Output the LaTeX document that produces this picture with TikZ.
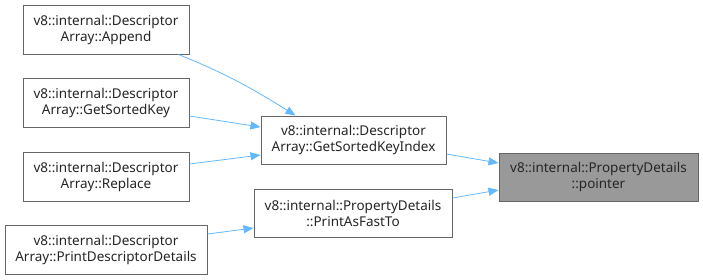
\documentclass[tikz,border=0pt]{standalone}
\usepackage{fontspec}
\setmainfont{Noto Sans}
\usetikzlibrary{arrows.meta}
\definecolor{edgeblue}{HTML}{63B8FF}
\definecolor{boxline}{HTML}{666666}
\definecolor{hilite}{HTML}{999999}
\begin{document}
\begin{tikzpicture}[x=1pt,y=-1pt,
  fn/.style={draw=boxline,line width=1pt,fill=white,align=center,inner sep=0pt,
    font=\fontsize{13.5}{16}\selectfont,text=black!85},
  cur/.style={fn,fill=hilite},
  call/.style={draw=edgeblue,line width=0.8pt,-{Triangle[length=10pt,width=8pt]}}]
\useasboundingbox (0,0) rectangle (703,279);
\node[fn,minimum width=166,minimum height=49] (app) at (106,29.5) {v8::internal::Descriptor\\Array::Append};
\node[fn,minimum width=166,minimum height=49] (gsk) at (106,102.5) {v8::internal::Descriptor\\Array::GetSortedKey};
\node[fn,minimum width=166,minimum height=49] (rep) at (106,176.5) {v8::internal::Descriptor\\Array::Replace};
\node[fn,minimum width=202,minimum height=49] (pdd) at (106,249.5) {v8::internal::Descriptor\\Array::PrintDescriptorDetails};
\node[fn,minimum width=185,minimum height=48] (gski) at (353.5,140) {v8::internal::Descriptor\\Array::GetSortedKeyIndex};
\node[fn,minimum width=198,minimum height=48] (paft) at (353,213) {v8::internal::PropertyDetails\\::PrintAsFastTo};
\node[cur,minimum width=199,minimum height=48] (ptr) at (598.5,177) {v8::internal::PropertyDetails\\::pointer};
\draw[call] ([xshift=-11pt]app.south east) to[out=-22,in=148] ([xshift=-58pt]gski.north);
\draw[call] ([yshift=-13.5pt]gsk.east) -- ([yshift=13pt]gski.west);
\draw[call] ([yshift=12.5pt]rep.east) -- ([yshift=-15pt]gski.west);
\draw[call] ([yshift=15.5pt]pdd.east) -- ([yshift=-15pt]paft.west);
\draw[call] ([yshift=-14pt]gski.east) -- ([yshift=14pt]ptr.west);
\draw[call] ([yshift=15pt]paft.east) -- ([yshift=-13pt]ptr.west);
\end{tikzpicture}
\end{document}
